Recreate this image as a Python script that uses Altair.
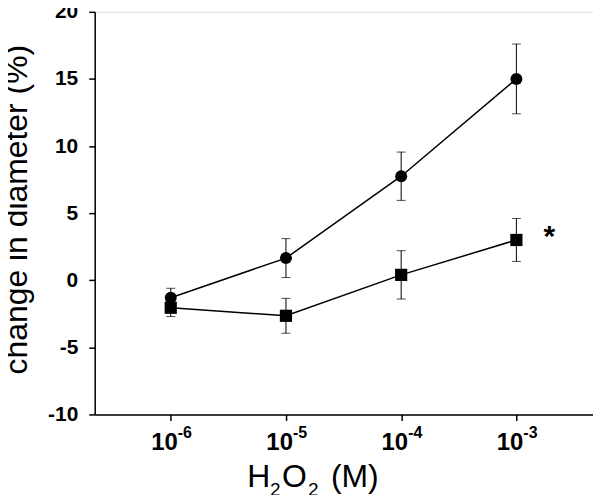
import altair as alt
import pandas as pd

conc = [1e-6, 1e-5, 1e-4, 1e-3]
exp_labels = ["-6", "-5", "-4", "-3"]
circle_mean = [-1.3, 1.65, 7.75, 15.0]
circle_err = [0.7, 1.45, 1.8, 2.6]
square_mean = [-2.05, -2.65, 0.4, 3.0]
square_err = [0.65, 1.3, 1.8, 1.6]

# x-axis title pieces: text, is_subscript
title_parts = ["H", "2", "O", "2", "(M)"]
title_sub = [False, True, False, True, False]

rows = []
for c, m, e in zip(conc, circle_mean, circle_err):
    rows.append({"conc": c, "mean": m, "lo": m - e, "hi": m + e, "series": "circle"})
for c, m, e in zip(conc, square_mean, square_err):
    rows.append({"conc": c, "mean": m, "lo": m - e, "hi": m + e, "series": "square"})
df = pd.DataFrame(rows)
lab = pd.DataFrame({"conc": conc, "base": ["10"] * 4, "exp": exp_labels})
star = pd.DataFrame({"conc": [conc[-1]], "mean": [square_mean[-1]], "t": ["*"]})

FONT = "Liberation Sans"
W, H = 500, 404

xs = alt.Scale(type="log", domain=[10 ** -6.66, 10 ** -2.335])
ys = alt.Scale(domain=[-10, 20], nice=False, zero=False)

xaxis = alt.Axis(values=conc, labels=False, ticks=True, tickSize=6, tickColor="black",
                 domainColor="black", domainWidth=1.5, tickWidth=1.5, grid=False, title=None)
yaxis = alt.Axis(values=[-10, -5, 0, 5, 10, 15, 20], tickSize=6, tickColor="black",
                 domainColor="black", domainWidth=1.5, tickWidth=1.5, grid=False,
                 labelExpr="'' + datum.value",
                 labelFont=FONT, labelFontSize=21, labelFontWeight="bold", labelColor="black",
                 labelPadding=11,
                 title="change in diameter (%)", titleFont=FONT, titleFontSize=32,
                 titleFontWeight="normal", titleAngle=-90, titleX=-68, titleY=198,
                 titleAlign="center", titleBaseline="alphabetic", titleColor="black")

base = alt.Chart(df)

bars = base.mark_rule(color="black", strokeWidth=1).encode(
    x=alt.X("conc:Q", scale=xs, axis=xaxis),
    y=alt.Y("lo:Q", scale=ys, axis=yaxis),
    y2="hi:Q",
)
cap_lo = base.mark_tick(color="black", thickness=1, size=9, orient="horizontal").encode(
    x=alt.X("conc:Q", scale=xs), y=alt.Y("lo:Q", scale=ys))
cap_hi = base.mark_tick(color="black", thickness=1, size=9, orient="horizontal").encode(
    x=alt.X("conc:Q", scale=xs), y=alt.Y("hi:Q", scale=ys))

lines = base.mark_line(color="black", strokeWidth=1.5).encode(
    x=alt.X("conc:Q", scale=xs), y=alt.Y("mean:Q", scale=ys), detail="series:N")

circles = alt.Chart(df[df.series == "circle"]).mark_point(
    shape="circle", filled=True, color="black", size=144, opacity=1).encode(
    x=alt.X("conc:Q", scale=xs), y=alt.Y("mean:Q", scale=ys))
squares = alt.Chart(df[df.series == "square"]).mark_point(
    shape="square", filled=True, color="black", size=150, opacity=1).encode(
    x=alt.X("conc:Q", scale=xs), y=alt.Y("mean:Q", scale=ys))

lab_base = alt.Chart(lab).mark_text(font=FONT, fontSize=24, fontWeight="bold", align="right",
                                    baseline="alphabetic", dx=7, color="black").encode(
    x=alt.X("conc:Q", scale=xs), y=alt.value(H + 36), text="base:N")
lab_exp = alt.Chart(lab).mark_text(font=FONT, fontSize=16, fontWeight="bold", align="left",
                                   baseline="alphabetic", dx=7, color="black").encode(
    x=alt.X("conc:Q", scale=xs), y=alt.value(H + 24), text="exp:N")

star_t = alt.Chart(star).mark_text(font=FONT, fontSize=30, fontWeight="bold", align="center",
                                   baseline="middle", dx=33, dy=-3, color="black").encode(
    x=alt.X("conc:Q", scale=xs), y=alt.Y("mean:Q", scale=ys), text="t:N")

# x-axis title assembled from pieces so subscripts match the original
title_x = [153, 176, 188, 214, 237]
title_layers = []
for txt, sub, px in zip(title_parts, title_sub, title_x):
    title_layers.append(
        alt.Chart(pd.DataFrame({"t": [txt]})).mark_text(
            font=FONT, fontSize=19 if sub else 32, align="left", baseline="alphabetic",
            color="black").encode(
            x=alt.value(px), y=alt.value(H + (82 if sub else 73)), text="t:N"))

chart = alt.layer(bars, cap_lo, cap_hi, lines, circles, squares, lab_base, lab_exp, star_t,
                  *title_layers).properties(
    width=W, height=H,
    autosize=alt.AutoSizeParams(type="none"),
    padding={"left": 87, "top": 3, "right": 0, "bottom": 80},
).configure_view(stroke=None).configure(background="white")

chart.save("out.html", embed_options={"renderer": "svg", "actions": False})
